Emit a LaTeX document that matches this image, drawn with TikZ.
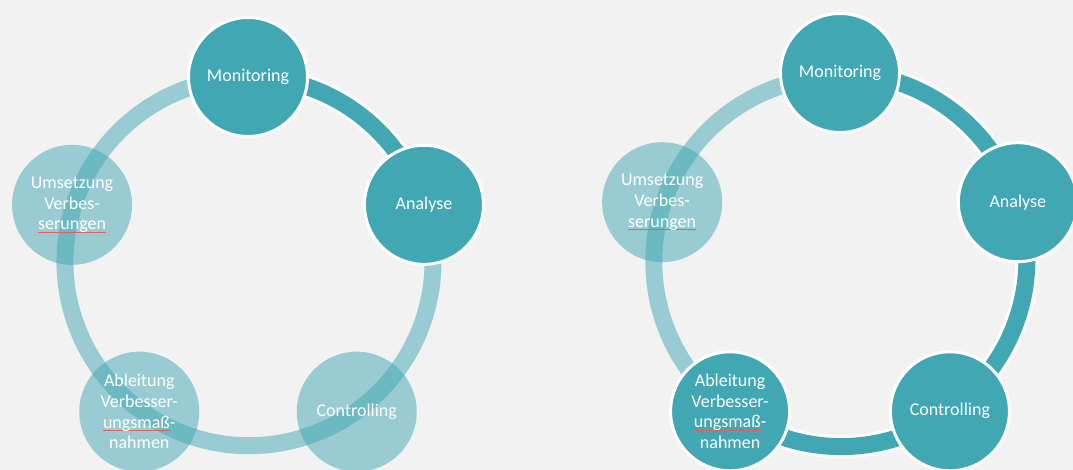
\documentclass[tikz,border=0pt]{standalone}
\usepackage{fontspec}
\setmainfont{Carlito}
\definecolor{cyc}{RGB}{65,167,179}
\definecolor{pagebg}{RGB}{242,242,242}
\definecolor{squig}{RGB}{226,96,96}
\newsavebox\markbox
% red spell-check underline beneath a word
\newcommand\spellmark[1]{\sbox\markbox{#1}\rlap{\color{squig}\rule[-2.8pt]{\wd\markbox}{0.8pt}}\usebox\markbox}
\pgfdeclarelayer{back}
\pgfdeclarelayer{rings}
\pgfsetlayers{back,rings,main}
\begin{document}
\begin{tikzpicture}[x=1pt,y=1pt,
  stage/.style={circle, inner sep=0pt, text=white, align=center,
    font=\fontsize{18}{20.7}\selectfont},
  done/.style={stage, fill=cyc, draw=white, line width=3pt, minimum size=119pt},
  todo/.style={stage, fill=cyc, fill opacity=0.5, text opacity=1, minimum size=120pt},
  ring/.style={draw=cyc, line width=17pt, opacity=0.5},
  casing/.style={draw=white, line width=23pt},
  track/.style={draw=cyc, line width=17pt}]

\begin{pgfonlayer}{back}
  \fill[pagebg] (0,0) rectangle (1073,470);
\end{pgfonlayer}
\useasboundingbox (0,0) rectangle (1073,470);

% ---------- left cycle: first two stages done ----------
\coordinate (L) at (248,208);
\node[done] (LM)  at ([shift={(90:185)}]L)   {Monitoring};
\node[done] (LA)  at ([shift={(18:185)}]L)   {Analyse};
\node[todo] (LC)  at ([shift={(-54:185)}]L)  {Controlling};
\node[todo] (LAb) at ([shift={(-126:185)}]L) {Ableitung\\Verbesser-\\\spellmark{ungsmaß}-\\nahmen};
\node[todo] (LU)  at ([shift={(162:185)}]L)  {Umsetzung\\Verbes-\\\spellmark{serungen}};

\begin{pgfonlayer}{rings}
  \draw[ring] (LA.center) arc[start angle=18, end angle=-270, radius=184pt];
  \draw[casing] (LM.center) arc[start angle=90, end angle=18, radius=184pt];
  \draw[track]  (LM.center) arc[start angle=90, end angle=18, radius=184pt];
\end{pgfonlayer}

% ---------- right cycle: four stages done ----------
\coordinate (R) at (840,210);
\node[done] (RM)  at ([shift={(90:187)}]R)   {Monitoring};
\node[done] (RA)  at ([shift={(18:187)}]R)   {Analyse};
\node[done] (RC)  at ([shift={(-54:187)}]R)  {Controlling};
\node[done] (RAb) at ([shift={(-126:187)}]R) {Ableitung\\Verbesser-\\\spellmark{ungsmaß}-\\nahmen};
\node[todo] (RU)  at ([shift={(162:187)}]R)  {Umsetzung\\Verbes-\\\spellmark{serungen}};

\begin{pgfonlayer}{rings}
  \draw[ring] (RAb.center) arc[start angle=-126, end angle=-270, radius=185pt];
  \draw[casing] (RM.center) arc[start angle=90, end angle=18, radius=185pt];
  \draw[casing] (RA.center) arc[start angle=18, end angle=-54, radius=185pt];
  \draw[casing] (RC.center) arc[start angle=-54, end angle=-126, radius=185pt];
  \draw[track]  (RM.center) arc[start angle=90, end angle=18, radius=185pt];
  \draw[track]  (RA.center) arc[start angle=18, end angle=-54, radius=185pt];
  \draw[track]  (RC.center) arc[start angle=-54, end angle=-126, radius=185pt];
\end{pgfonlayer}
\end{tikzpicture}
\end{document}
